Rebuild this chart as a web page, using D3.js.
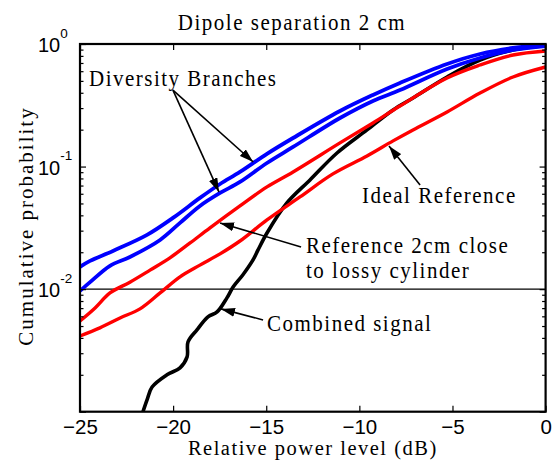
<!DOCTYPE html>
<html>
<head>
<meta charset="utf-8">
<script src="https://cdn.jsdelivr.net/npm/d3@7"></script>
<style>
  body { margin: 0; background: #fff; }
</style>
</head>
<body>
<div id="chart"></div>
<script>
// Dimensiones
const ancho = 552;
const alto = 461;
const margen = { superior: 44, derecho: 6.4, inferior: 49.3, izquierdo: 80 };

// Datos (dB, probabilidad acumulada)
const dbRamaA = [-25, -24.46, -23.23, -21.4, -20.01, -18.56, -17.48, -16.41, -14.96, -13.56, -11.04, -9.27, -7.82, -5.29, -3.52, -1.75, 0];
const pRamaA  = [0.0152, 0.0170, 0.0205, 0.0277, 0.0381, 0.0555, 0.0721, 0.0904, 0.127, 0.171, 0.284, 0.384, 0.481, 0.687, 0.829, 0.928, 0.981];

const dbRamaB = [-25, -24.46, -23.39, -22.32, -20.70, -19.63, -18.56, -17.48, -16.41, -14.96, -13.56, -11.04, -9.27, -7.82, -5.29, -3.52, -1.75, 0];
const pRamaB  = [0.00967, 0.0114, 0.0155, 0.0183, 0.0252, 0.0347, 0.0477, 0.0609, 0.0749, 0.107, 0.1445, 0.249, 0.343, 0.421, 0.625, 0.769, 0.894, 0.963];

const dbRefCilindro = [-25, -24.19, -23.39, -22.32, -21.24, -20.17, -19.09, -18.02, -16.41, -14.96, -13.56, -11.04, -9.27, -7.82, -5.29, -3.52, -1.75, 0];
const pRefCilindro  = [0.0055, 0.00703, 0.00931, 0.0114, 0.0143, 0.0180, 0.0238, 0.0316, 0.0477, 0.0682, 0.0904, 0.156, 0.227, 0.312, 0.528, 0.674, 0.813, 0.877];

const dbRefIdeal = [-25, -23.93, -22.85, -21.78, -20.70, -19.63, -18.56, -17.48, -16.41, -14.96, -13.19, -11.42, -9.59, -8.19, -7.12, -5.29, -3.52, -1.75, 0];
const pRefIdeal  = [0.00415, 0.00483, 0.00582, 0.0069, 0.00931, 0.0126, 0.0157, 0.0194, 0.0247, 0.0367, 0.0565, 0.0871, 0.122, 0.162, 0.199, 0.279, 0.398, 0.538, 0.649];

const dbCombinada = [-21.62, -21.40, -21.13, -20.33, -19.63, -19.25, -19.20, -18.72, -18.13, -17.64, -17.11, -16.78, -16.25, -15.71, -15.44, -14.96, -13.89, -12.65, -11.20, -9.59, -8.19, -7.12, -5.29, -3.52, -1.75, -0.30, 0];
const pCombinada  = [0.001, 0.00125, 0.00159, 0.002, 0.00228, 0.0028, 0.00371, 0.00465, 0.00593, 0.00652, 0.00848, 0.0104, 0.0131, 0.0173, 0.0209, 0.0287, 0.0505, 0.0778, 0.129, 0.199, 0.290, 0.363, 0.538, 0.740, 0.894, 0.963, 0.981];

const ticksX = [-25, -20, -15, -10, -5, 0];
const ticksYMayores = [1e-3, 1e-2, 1e-1, 1];
const etiquetasY = [{ v: 1, exp: "0" }, { v: 1e-1, exp: "-1" }, { v: 1e-2, exp: "-2" }];

// Anotaciones: flechas (cola -> punta) en coordenadas de datos
const flechas = [
  { desde: [-20.01, 0.421], hasta: [-15.7, 0.109] },
  { desde: [-20.01, 0.421], hasta: [-17.54, 0.0621] },
  { desde: [-6.74, 0.0708], hasta: [-8.41, 0.147] },
  { desde: [-13.13, 0.0221], hasta: [-17.48, 0.0347] },
  { desde: [-15.17, 0.00561], hasta: [-17.43, 0.0069] }
];

const series = [
  { db: dbCombinada, p: pCombinada, color: "#000000", ancho: 3.6 },
  { db: dbRefIdeal, p: pRefIdeal, color: "#ff0000", ancho: 3.4 },
  { db: dbRefCilindro, p: pRefCilindro, color: "#ff0000", ancho: 3.4 },
  { db: dbRamaB, p: pRamaB, color: "#0000ff", ancho: 3.8 },
  { db: dbRamaA, p: pRamaA, color: "#0000ff", ancho: 3.8 }
];

const svg = d3.select("#chart")
  .append("svg")
  .attr("width", ancho)
  .attr("height", alto)
  .style("background-color", "white");

// Escalas
const escalaX = d3.scaleLinear()
  .domain([-25, 0])
  .range([margen.izquierdo, ancho - margen.derecho]);

const escalaY = d3.scaleLog()
  .domain([1e-3, 1])
  .range([alto - margen.inferior, margen.superior]);

const x0 = escalaX.range()[0], x1 = escalaX.range()[1];
const y0 = escalaY.range()[1], y1 = escalaY.range()[0];

svg.append("defs").append("clipPath")
  .attr("id", "recorte")
  .append("rect")
  .attr("x", x0).attr("y", y0)
  .attr("width", x1 - x0).attr("height", y1 - y0);

svg.select("defs").append("marker")
  .attr("id", "punta")
  .attr("markerUnits", "userSpaceOnUse")
  .attr("viewBox", "0 0 14 9")
  .attr("refX", 14).attr("refY", 4.5)
  .attr("markerWidth", 14).attr("markerHeight", 9)
  .attr("orient", "auto")
  .append("path")
  .attr("d", "M0,0 L14,4.5 L0,9 Z")
  .attr("fill", "black");

// Linea horizontal en 10^-2
svg.append("line")
  .attr("x1", x0).attr("x2", x1)
  .attr("y1", escalaY(1e-2)).attr("y2", escalaY(1e-2))
  .attr("stroke", "black")
  .attr("stroke-width", 1.2);

// Curvas
const linea = d3.line()
  .curve(d3.curveCatmullRom.alpha(0.5))
  .x(d => escalaX(d[0]))
  .y(d => escalaY(d[1]));

svg.append("g")
  .attr("clip-path", "url(#recorte)")
  .selectAll(".curva")
  .data(series)
  .enter()
  .append("path")
  .attr("class", "curva")
  .attr("d", s => linea(s.db.map((v, i) => [v, s.p[i]])))
  .attr("fill", "none")
  .attr("stroke", s => s.color)
  .attr("stroke-width", s => s.ancho)
  .attr("stroke-linejoin", "round");

// Ejes
const menores = escalaY.ticks().filter(v => !ticksYMayores.some(m => Math.abs(m - v) < 1e-9));

function estiloEje(g) {
  g.select(".domain").remove();
  g.selectAll("line").attr("stroke", "black").attr("stroke-width", 1.2);
}

svg.append("g")
  .attr("transform", `translate(0,${y1})`)
  .call(d3.axisBottom(escalaX).tickValues(ticksX).tickSizeInner(-6).tickSizeOuter(0))
  .call(estiloEje)
  .selectAll("text")
  .attr("font-family", "'Liberation Sans', Arial, sans-serif")
  .attr("font-size", 20.5)
  .attr("fill", "black")
  .attr("y", 22.5)
  .attr("dy", 0);

svg.append("g")
  .attr("transform", `translate(0,${y0})`)
  .call(d3.axisTop(escalaX).tickValues(ticksX).tickSizeInner(-6).tickSizeOuter(0).tickFormat(""))
  .call(estiloEje);

svg.append("g")
  .attr("transform", `translate(${x0},0)`)
  .call(d3.axisLeft(escalaY).tickValues(ticksYMayores).tickSizeInner(-6).tickSizeOuter(0).tickFormat(""))
  .call(estiloEje);

svg.append("g")
  .attr("transform", `translate(${x0},0)`)
  .call(d3.axisLeft(escalaY).tickValues(menores).tickSizeInner(-3.5).tickSizeOuter(0).tickFormat(""))
  .call(estiloEje);

svg.append("g")
  .attr("transform", `translate(${x1},0)`)
  .call(d3.axisRight(escalaY).tickValues(ticksYMayores).tickSizeInner(-6).tickSizeOuter(0).tickFormat(""))
  .call(estiloEje);

svg.append("g")
  .attr("transform", `translate(${x1},0)`)
  .call(d3.axisRight(escalaY).tickValues(menores).tickSizeInner(-3.5).tickSizeOuter(0).tickFormat(""))
  .call(estiloEje);

// Etiquetas 10^n
const etiquetas = svg.selectAll(".etiquetaY")
  .data(etiquetasY)
  .enter()
  .append("text")
  .attr("class", "etiquetaY")
  .attr("x", 38)
  .attr("y", d => escalaY(d.v) + 8)
  .attr("font-family", "'Liberation Sans', Arial, sans-serif")
  .attr("font-size", 20)
  .attr("fill", "black");
etiquetas.append("tspan").text("10");
etiquetas.append("tspan")
  .attr("dy", -14.5)
  .attr("font-size", 13.5)
  .text(d => d.exp);

// Marco
svg.append("rect")
  .attr("x", x0).attr("y", y0)
  .attr("width", x1 - x0).attr("height", y1 - y0)
  .attr("fill", "none")
  .attr("stroke", "black")
  .attr("stroke-width", 2.2);

// Flechas
svg.selectAll(".flecha")
  .data(flechas)
  .enter()
  .append("line")
  .attr("class", "flecha")
  .attr("x1", d => escalaX(d.desde[0]))
  .attr("y1", d => escalaY(d.desde[1]))
  .attr("x2", d => escalaX(d.hasta[0]))
  .attr("y2", d => escalaY(d.hasta[1]))
  .attr("stroke", "black")
  .attr("stroke-width", 1.6)
  .attr("marker-end", "url(#punta)");

// Textos en serif
function textoSerif(x, y, txt, anclaje, escala, tam) {
  svg.append("text")
    .attr("transform", `translate(${x},${y}) scale(1,${escala || 1.1})`)
    .attr("text-anchor", anclaje || "start")
    .attr("font-family", "'Liberation Serif', 'Times New Roman', serif")
    .attr("font-size", tam || 21)
    .attr("letter-spacing", 1.5)
    .attr("fill", "black")
    .text(txt);
}

textoSerif(292, 30, "Dipole separation 2 cm", "middle");
textoSerif(89, 86, "Diversity Branches");
textoSerif(362, 203, "Ideal Reference");
textoSerif(306, 253, "Reference 2cm close");
textoSerif(306, 278, "to lossy cylinder");
textoSerif(267, 331, "Combined signal");
textoSerif((x0 + x1) / 2, 455, "Relative power level (dB)", "middle", 1, 20.5);

svg.append("text")
  .attr("transform", `translate(33,226) rotate(-90)`)
  .attr("text-anchor", "middle")
  .attr("font-family", "'Liberation Serif', 'Times New Roman', serif")
  .attr("font-size", 21)
  .attr("letter-spacing", 2)
  .attr("fill", "black")
  .text("Cumulative probability");
</script>
</body>
</html>
